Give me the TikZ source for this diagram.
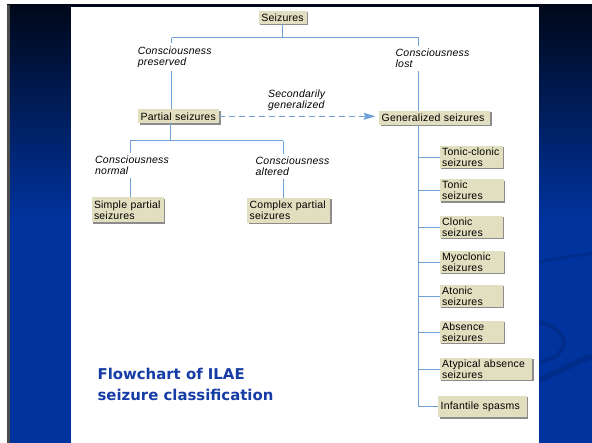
\documentclass[tikz,border=0pt]{standalone}
\usepackage{fontspec}
\newfontfamily\chartfont[LetterSpace=2]{Liberation Sans}
\newfontfamily\titlefont{DejaVu Sans}
\usetikzlibrary{arrows.meta,shadows}
\definecolor{boxtan}{RGB}{226,222,192}
\definecolor{linkblue}{RGB}{112,160,216}
\definecolor{slideblue}{RGB}{0,51,158}
\definecolor{slidetop}{RGB}{0,8,26}
\definecolor{swooshblue}{RGB}{0,44,140}
\definecolor{titleblue}{RGB}{22,60,165}

\begin{document}
\begin{tikzpicture}[x=1pt,y=-1pt,
  box/.style={fill=boxtan,anchor=west,align=left,font=\chartfont\fontsize{10.5}{11}\selectfont,inner xsep=2.5pt,inner ysep=1pt,minimum height=14pt,drop shadow={shadow xshift=1.4pt,shadow yshift=-1.4pt,fill=black!45,opacity=1}},
  gbox/.style={box,minimum height=22pt},
  cond/.style={anchor=west,align=left,font=\chartfont\fontsize{10.5}{11}\selectfont\itshape,inner xsep=0pt,inner ysep=3pt},
  link/.style={draw=linkblue,line width=.9pt}]
\useasboundingbox (0,0) rectangle (592,443);
\fill[white] (0,0) rectangle (592,443);
\shade[top color=slidetop,bottom color=slideblue] (7,5) rectangle (592,220);
\fill[slideblue] (7,220) rectangle (592,443);
\fill[black!70] (7,5) rectangle (10,443);
\draw[swooshblue,line width=3pt] (539,262) .. controls (560,258) and (575,256) .. (592,253);
\draw[swooshblue,line width=4pt] (539,322) .. controls (572,330) and (572,356) .. (539,362);
\draw[swooshblue,line width=6pt] (539,380) .. controls (560,372) and (575,362) .. (592,356);
\fill[white] (71,7) rectangle (539,443);

\node[box,anchor=center,minimum width=48pt,minimum height=13pt] (seiz) at (282.5,17.5) {Seizures};
\node[box,text width=76pt] (part) at (138,116.3) {Partial seizures};
\node[box,text width=106pt] (gen) at (379,118) {Generalized seizures};
\node[box,text width=67.5pt,minimum height=25pt] (simple) at (91.3,210) {Simple partial\\seizures};
\node[box,text width=78pt,minimum height=25pt] (complex) at (247,210.5) {Complex partial\\seizures};
\node[gbox,text width=58pt] (tc) at (439.5,157) {Tonic-clonic\\seizures};
\node[gbox,text width=59pt] (tonic) at (439.5,190.3) {Tonic\\seizures};
\node[gbox,text width=58pt] (clonic) at (439.5,227) {Clonic\\seizures};
\node[gbox,text width=59pt] (myo) at (439.5,262) {Myoclonic\\seizures};
\node[gbox,text width=58pt] (atonic) at (439.5,296) {Atonic\\seizures};
\node[gbox,text width=59pt] (abs) at (439.5,332) {Absence\\seizures};
\node[gbox,text width=87.5pt] (atyp) at (439.5,369) {Atypical absence\\seizures};
\node[box,text width=83.5pt,minimum height=21.6pt] (infant) at (438,406.5) {Infantile spasms};

\node[cond] (lp) at (137.7,57) {Consciousness\\preserved};
\node[cond] (ll) at (395.5,58.5) {Consciousness\\lost};
\node[cond] (sec) at (268,100.5) {Secondarily\\generalized};
\node[cond] (ln) at (95,165.5) {Consciousness\\normal};
\node[cond] (la) at (255.5,166.3) {Consciousness\\altered};

\coordinate (pj) at (171.7,37.7);\coordinate (lj) at (418.9,37.7);
\coordinate (sj) at (170,140.7);\coordinate (nj) at (130,140.7);\coordinate (aj) at (283,140.7);
\draw[link] (seiz.south)--(seiz.south|-pj);\draw[link] (pj)--(lj);
\draw[link] (pj)--(pj|-lp.north);\draw[link] (pj|-lp.south)--(pj|-part.north);
\draw[link] (lj)--(lj|-ll.north);\draw[link] (lj|-ll.south)--(lj|-gen.north);
\draw[link] (part.south-|sj)--(sj);\draw[link] (nj)--(aj);
\draw[link] (nj)--(nj|-ln.north);\draw[link] (nj|-ln.south)--(nj|-simple.north);
\draw[link] (aj)--(aj|-la.north);\draw[link] (aj|-la.south)--(aj|-complex.north);
\draw[link,dash pattern=on 6pt off 4pt,-{Stealth[length=12pt,width=7pt,inset=2pt,fill=linkblue]},shorten >=3.5pt] (part.east)--(part.east-|gen.west);
\draw[link] (gen.south-|lj)--(lj|-infant.west)--(infant.west);
\foreach \n in {tc,tonic,clonic,myo,atonic,abs,atyp} \draw[link] (lj|-\n.west)--(\n.west);

\node[anchor=north west,align=left,inner sep=0pt,text=titleblue,font=\titlefont\bfseries\fontsize{14.9}{21}\selectfont] (title) at (97.4,368) {Flowchart of ILAE\\seizure classification};
\end{tikzpicture}
\end{document}
